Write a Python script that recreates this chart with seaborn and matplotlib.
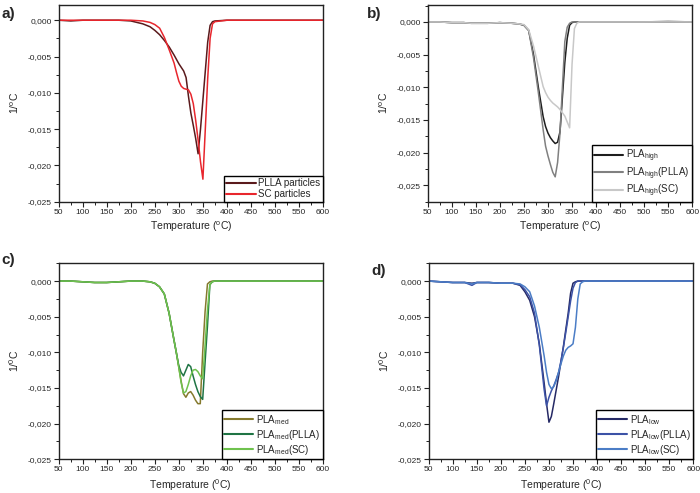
import numpy as np
import pandas as pd
import matplotlib
matplotlib.use("Agg")
import matplotlib.pyplot as plt
import seaborn as sns
from matplotlib.ticker import MultipleLocator, FuncFormatter

# temperature grid (°C) shared by all curves
TEMPERATURE = [50, 75, 100, 125, 140, 150, 175, 200, 225, 240, 250, 260, 270, 280, 290,
               295, 300, 305, 310, 315, 320, 325, 330, 335, 340, 345, 350, 355, 360,
               365, 370, 375, 400, 450, 500, 550, 600]

# panel a)
PLLA_PARTICLES = [0, -0.0001, 0, 0, 0, 0, 0, -0.0001, -0.0005, -0.0009, -0.0014, -0.002, -0.0028,
                  -0.0037, -0.0048, -0.0054, -0.006, -0.0065, -0.007, -0.0079, -0.0105, -0.0128,
                  -0.0145, -0.0163, -0.0184, -0.015, -0.011, -0.007, -0.003, -0.0007, -0.0002,
                  -0.0001, 0, 0, 0, 0, 0]
SC_PARTICLES = [0, 0, 0, 0, 0, 0, 0, 0, -0.0001, -0.0003, -0.0006, -0.0011, -0.0024, -0.0041,
                -0.0059, -0.0072, -0.0084, -0.0091, -0.0094, -0.0095, -0.0096, -0.0102, -0.0115,
                -0.0138, -0.0165, -0.0195, -0.0219, -0.015, -0.008, -0.0025, -0.0005, -0.0002,
                0, 0, 0, 0, 0]

# panel b)
PLA_HIGH = [0, 0, -0.0001, -0.0001, -0.0002, -0.0002, -0.0002, -0.0001, -0.0002, -0.0003, -0.0005,
            -0.0013, -0.005, -0.01, -0.0145, -0.016, -0.017, -0.0177, -0.0182, -0.0186, -0.0184,
            -0.0168, -0.0115, -0.0062, -0.0025, -0.0005, -0.0001, 0, 0, 0, 0, 0, 0, 0, 0, 0, 0]
PLA_HIGH_PLLA = [0, 0, -0.0001, -0.0001, -0.0002, -0.0002, -0.0002, -0.0001, -0.0002, -0.0003,
                 -0.0005, -0.0013, -0.0055, -0.0108, -0.0165, -0.019, -0.0205, -0.0218, -0.023,
                 -0.0237, -0.0215, -0.017, -0.01, -0.003, -0.0008, -0.0002, 0, 0, 0, 0, 0, 0, 0,
                 0, 0, 0.0001, 0]
PLA_HIGH_SC = [0, 0, -0.0001, -0.0001, -0.0002, -0.0002, -0.0002, -0.0001, -0.0002, -0.0003,
               -0.0004, -0.0012, -0.0037, -0.0068, -0.0099, -0.0108, -0.0115, -0.012, -0.0124,
               -0.0127, -0.013, -0.0134, -0.0139, -0.0144, -0.0153, -0.0162, -0.0065, -0.001,
               -0.0002, 0, 0, 0, 0, 0, 0, 0, 0]

# panel c)
PLA_MED = [0, 0, -0.0001, -0.0002, -0.0002, -0.0002, -0.0001, 0, 0, -0.0001, -0.0003, -0.0008,
           -0.0018, -0.0045, -0.0082, -0.01, -0.012, -0.014, -0.0158, -0.0163, -0.0157, -0.0155,
           -0.016, -0.0167, -0.0172, -0.0172, -0.01, -0.0043, -0.0004, -0.0001, 0, 0, 0, 0, 0,
           0, 0]
PLA_MED_PLLA = [0, 0, -0.0001, -0.0002, -0.0002, -0.0002, -0.0001, 0, 0, -0.0001, -0.0003,
                -0.0008, -0.0018, -0.0045, -0.0082, -0.01, -0.0118, -0.0128, -0.0133, -0.0125,
                -0.0117, -0.012, -0.0133, -0.0145, -0.0155, -0.0162, -0.0166, -0.0114, -0.0063,
                -0.0005, -0.0001, 0, 0, 0, 0, 0, 0]
PLA_MED_SC = [0, 0, -0.0001, -0.0002, -0.0002, -0.0002, -0.0001, 0, 0, -0.0001, -0.0003, -0.0008,
              -0.0018, -0.0045, -0.0082, -0.01, -0.012, -0.0142, -0.0157, -0.0155, -0.0145,
              -0.0133, -0.0125, -0.0124, -0.0127, -0.0133, -0.0137, -0.009, -0.004, -0.0005,
              -0.0001, 0, 0, 0, 0, 0, 0]

# panel d)
PLA_LOW = [0, -0.0001, -0.0002, -0.0002, -0.0003, -0.0002, -0.0002, -0.0003, -0.0003, -0.0006,
           -0.0015, -0.0027, -0.005, -0.0088, -0.0143, -0.0172, -0.0198, -0.019, -0.0172,
           -0.0153, -0.0134, -0.0113, -0.0092, -0.0068, -0.0045, -0.0017, -0.0003, -0.0001, 0,
           0, 0, 0, 0, 0, 0, 0, 0]
PLA_LOW_PLLA = [0, -0.0001, -0.0002, -0.0002, -0.0006, -0.0002, -0.0002, -0.0003, -0.0003,
                -0.0005, -0.0012, -0.0022, -0.0045, -0.009, -0.0152, -0.0175, -0.0163, -0.0154,
                -0.0147, -0.0138, -0.0128, -0.0112, -0.0093, -0.0072, -0.005, -0.0028, -0.001,
                -0.0002, 0, 0, 0, 0, 0, 0, 0, 0, 0]
PLA_LOW_SC = [0, -0.0001, -0.0002, -0.0002, -0.0004, -0.0002, -0.0002, -0.0003, -0.0003, -0.0004,
              -0.0008, -0.0015, -0.0035, -0.0065, -0.0105, -0.0128, -0.0145, -0.0151, -0.0148,
              -0.014, -0.0128, -0.0116, -0.0105, -0.0097, -0.0093, -0.0091, -0.0088, -0.0065,
              -0.0025, -0.0004, -0.0001, 0, 0, 0, 0, 0, 0]


def sub(base, s, rest=""):
    return base + r"$\mathregular{_{" + s + "}}$" + rest


PANELS = [
    {
        "tag": "a)", "rect": [0.0839, 0.5909, 0.3776, 0.399], "ylim": (-0.025, 0.0021),
        "xlabel": r"Temperature ($\mathregular{^o}$C)", "ylabel": r"1/$\mathregular{^o}$C",
        "series": [("PLLA particles", PLLA_PARTICLES, "#5a1a1c"),
                   ("SC particles", SC_PARTICLES, "#e8262d")],
        "tagpos": (0.002, 0.985),
    },
    {
        "tag": "b)", "rect": [0.611, 0.5909, 0.378, 0.399], "ylim": (-0.0275, 0.0026),
        "xlabel": r"Temperature ($\mathregular{^o}$C)", "ylabel": r"1/$\mathregular{^o}$C",
        "series": [(sub("PLA", "high"), PLA_HIGH, "#1e1e1e"),
                   (sub("PLA", "high", "(PLLA)"), PLA_HIGH_PLLA, "#808080"),
                   (sub("PLA", "high", "(SC)"), PLA_HIGH_SC, "#c8c8c8")],
        "tagpos": (0.524, 0.985),
    },
    {
        "tag": "c)", "rect": [0.0839, 0.0684, 0.377, 0.3976], "ylim": (-0.025, 0.0025),
        "xlabel": r"Temperature ($\mathregular{^0}$C)", "ylabel": r"1/$\mathregular{^0}$C",
        "series": [(sub("PLA", "med"), PLA_MED, "#857a2e"),
                   (sub("PLA", "med", "(PLLA)"), PLA_MED_PLLA, "#1f7444"),
                   (sub("PLA", "med", "(SC)"), PLA_MED_SC, "#6fc24e")],
        "tagpos": (0.002, 0.487),
    },
    {
        "tag": "d)", "rect": [0.6124, 0.0684, 0.378, 0.3976], "ylim": (-0.025, 0.0025),
        "xlabel": r"Temperature ($\mathregular{^0}$C)", "ylabel": r"1/$\mathregular{^0}$C",
        "series": [(sub("PLA", "low"), PLA_LOW, "#252965"),
                   (sub("PLA", "low", "(PLLA)"), PLA_LOW_PLLA, "#3c52a6"),
                   (sub("PLA", "low", "(SC)"), PLA_LOW_SC, "#4b7dc6")],
        "tagpos": (0.531, 0.465),
    },
]


def comma_fmt(v, pos):
    v = round(v, 6)
    if v == 0:
        return "0,000"
    return f"{v:.3f}".replace(".", ",")


sns.set_theme(style="ticks")
plt.rcParams["font.family"] = ["Liberation Sans", "DejaVu Sans"]

fig = plt.figure(figsize=(7, 4.93), dpi=100)

for panel in PANELS:
    ax = fig.add_axes(panel["rect"])

    # long-form table for seaborn
    frames = []
    for name, values, color in panel["series"]:
        frames.append(pd.DataFrame({"T": TEMPERATURE, "v": values, "series": name}))
    df = pd.concat(frames, ignore_index=True)
    order = [s[0] for s in panel["series"]]
    palette = {s[0]: s[2] for s in panel["series"]}

    sns.lineplot(data=df, x="T", y="v", hue="series", hue_order=order, palette=palette,
                 linewidth=1.1, ax=ax, legend=True, sort=False)

    ax.set_xlim(50, 600)
    ax.set_ylim(*panel["ylim"])
    ax.xaxis.set_major_locator(MultipleLocator(50))
    ax.xaxis.set_minor_locator(MultipleLocator(25))
    ax.yaxis.set_major_locator(MultipleLocator(0.005))
    ax.yaxis.set_minor_locator(MultipleLocator(0.0025))
    ax.yaxis.set_major_formatter(FuncFormatter(comma_fmt))
    ax.tick_params(which="major", direction="out", length=3.5, width=0.8, labelsize=6,
                   pad=1.5, color="#222222")
    ax.tick_params(which="minor", direction="out", length=2, width=0.7, color="#222222")
    for sp in ax.spines.values():
        sp.set_visible(True)
        sp.set_linewidth(1.0)
        sp.set_color("#222222")

    ax.set_xlabel(panel["xlabel"], fontsize=7.5, labelpad=3)
    ax.set_ylabel(panel["ylabel"], fontsize=7.5, labelpad=5)

    leg = ax.legend(loc="lower right", borderaxespad=0, fontsize=7, frameon=True,
                    fancybox=False, framealpha=1, edgecolor="black", handlelength=3.0,
                    handletextpad=0.3, borderpad=0.25, labelspacing=0.12)
    leg.get_frame().set_linewidth(1.0)
    for line in leg.get_lines():
        line.set_linewidth(1.5)

    fig.text(panel["tagpos"][0], panel["tagpos"][1], panel["tag"], fontsize=11,
             fontweight="bold", ha="left", va="top")

fig.savefig("out.png", dpi=100)
